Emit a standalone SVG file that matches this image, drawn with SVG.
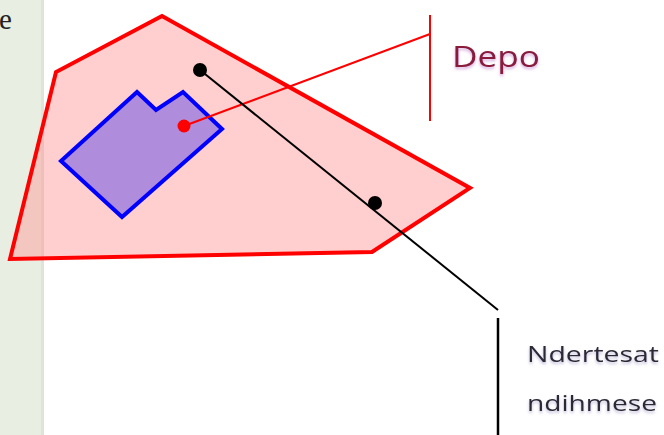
<svg xmlns="http://www.w3.org/2000/svg" width="664" height="435" viewBox="0 0 664 435">
<defs>
<style>
.lbl{font-family:"Open Sans","Noto Sans",sans-serif;}
.depo{font-size:29px;fill:#8a1a3a;}
.nd{font-size:21px;fill:#2c2a33;}
</style>
<filter id="glow" x="-20%" y="-30%" width="140%" height="160%">
<feGaussianBlur in="SourceAlpha" stdDeviation="1.6" result="b"/>
<feFlood flood-color="#b060c0" flood-opacity="0.55"/>
<feComposite in2="b" operator="in" result="s"/>
<feOffset dx="0" dy="1.5" result="o"/>
<feMerge><feMergeNode in="o"/><feMergeNode in="SourceGraphic"/></feMerge>
</filter>
<filter id="glow2" x="-20%" y="-30%" width="140%" height="160%">
<feGaussianBlur in="SourceAlpha" stdDeviation="1.6" result="b"/>
<feFlood flood-color="#8070b0" flood-opacity="0.5"/>
<feComposite in2="b" operator="in" result="s"/>
<feOffset dx="0" dy="1.5" result="o"/>
<feMerge><feMergeNode in="o"/><feMergeNode in="SourceGraphic"/></feMerge>
</filter>
</defs>
<rect x="0" y="0" width="664" height="435" fill="#ffffff"/>
<rect x="0" y="0" width="43" height="435" fill="#e9eee3"/>
<rect x="41" y="0" width="3" height="435" fill="#dfe3d8"/>
<text x="-1" y="29" font-family="'Liberation Serif',serif" font-size="29" fill="#222">e</text>
<g id="zone">
<polygon points="162,16 56,72 10,259 372,252 470,188" fill="#ff9e9e" fill-opacity="0.5" stroke="#ff0000" stroke-width="4" stroke-linejoin="miter"/>
</g>
<g id="building">
<polygon points="137,92 156,110 183,92 222,129 122,217 61,161" fill="#b08ddc" stroke="#0000ff" stroke-width="4" stroke-linejoin="miter"/>
</g>
<g id="connectors">
<line x1="184" y1="126" x2="430" y2="34" stroke="#ff0000" stroke-width="2"/>
<line x1="430" y1="15" x2="430" y2="121" stroke="#ff0000" stroke-width="2"/>
<line x1="200" y1="70" x2="498" y2="310" stroke="#000" stroke-width="2"/>
<line x1="498" y1="318" x2="498" y2="435" stroke="#000" stroke-width="2.5"/>
<circle cx="184" cy="126" r="6.5" fill="#ff0000"/>
<circle cx="200" cy="70" r="7" fill="#000"/>
<circle cx="375" cy="203" r="7" fill="#000"/>
</g>
<g id="depo">
<text class="lbl depo" x="452" y="67" textLength="88" lengthAdjust="spacingAndGlyphs" filter="url(#glow)">Depo</text>
</g>
<g id="ndertesat">
<text class="lbl nd" x="527" y="362" textLength="132" lengthAdjust="spacingAndGlyphs" filter="url(#glow2)">Ndertesat</text>
<text class="lbl nd" x="527" y="411" textLength="130" lengthAdjust="spacingAndGlyphs" filter="url(#glow2)">ndihmese</text>
</g>
</svg>
